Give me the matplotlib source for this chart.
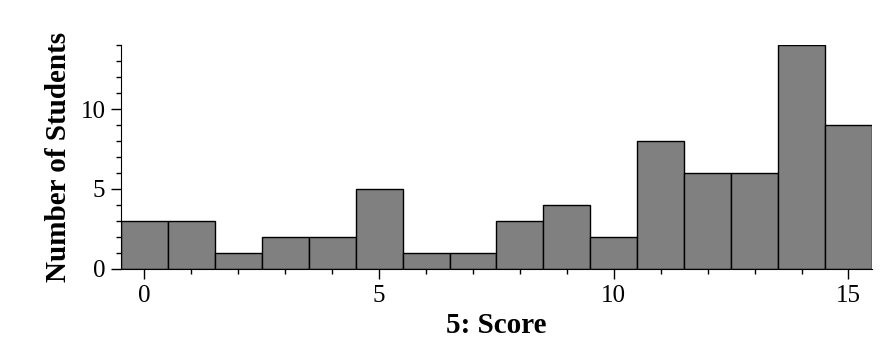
import matplotlib
matplotlib.use("Agg")
import matplotlib.pyplot as plt
from matplotlib.ticker import MultipleLocator

scores = list(range(16))
counts = [3, 3, 1, 2, 2, 5, 1, 1, 3, 4, 2, 8, 6, 6, 14, 9]

plt.rcParams['font.family'] = ['Liberation Serif', 'DejaVu Serif']
fig = plt.figure(figsize=(8.83, 3.53), dpi=100)
ax = fig.add_axes([0.137, 0.238, 0.8505, 0.6345])
ax.bar(scores, counts, width=1.0, color='#808080', edgecolor='black', linewidth=1.0)
ax.set_xlim(-0.5, 15.5)
ax.set_ylim(0, 14)
ax.xaxis.set_major_locator(MultipleLocator(5))
ax.xaxis.set_minor_locator(MultipleLocator(1))
ax.yaxis.set_major_locator(MultipleLocator(5))
ax.yaxis.set_minor_locator(MultipleLocator(1))
for s in ['top', 'right']:
    ax.spines[s].set_visible(False)
ax.tick_params(which='major', direction='out', length=7.2, width=1, labelsize=18, pad=4)
ax.tick_params(which='minor', direction='out', length=3.6, width=1)
ax.set_xlabel('5: Score', fontsize=21, fontweight='bold', labelpad=4)
ax.set_ylabel('Number of Students', fontsize=21, fontweight='bold', labelpad=6)
fig.savefig('out.png', dpi=100)
